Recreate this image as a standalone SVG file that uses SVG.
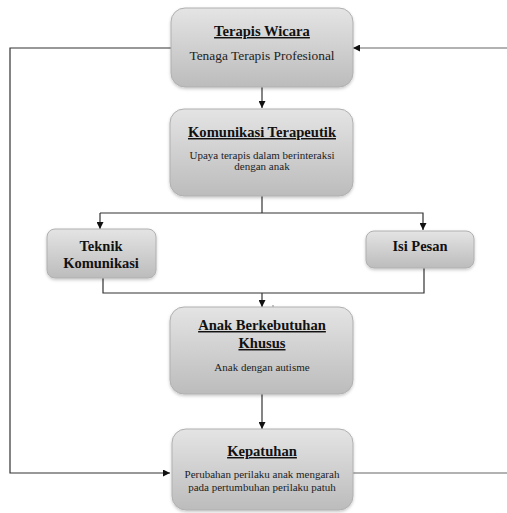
<svg xmlns="http://www.w3.org/2000/svg" width="507" height="513" viewBox="0 0 507 513">
<defs>
<linearGradient id="g" x1="0" y1="0" x2="0" y2="1">
<stop offset="0" stop-color="#e4e4e4"/>
<stop offset="1" stop-color="#bcbcbc"/>
</linearGradient>
<filter id="sh" x="-10%" y="-10%" width="120%" height="130%">
<feDropShadow dx="0" dy="1.5" stdDeviation="1.5" flood-color="#000" flood-opacity="0.22"/>
</filter>
<marker id="ah" viewBox="0 0 10 10" refX="10" refY="5" markerWidth="7" markerHeight="7" markerUnits="userSpaceOnUse" orient="auto">
<path d="M0,0 L10,5 L0,10 z" fill="#111"/>
</marker>
</defs>
<style>
.box{fill:url(#g);stroke:#b0b0b0;stroke-width:1;filter:url(#sh)}
.t{font-family:"Liberation Serif","Times New Roman",serif;font-weight:bold;font-size:14.6px;fill:#111;text-anchor:middle;text-decoration:underline}
.tb{font-family:"Liberation Serif","Times New Roman",serif;font-weight:bold;font-size:14.5px;fill:#111;text-anchor:middle}
.s{font-family:"Liberation Serif","Times New Roman",serif;font-size:11px;fill:#222;text-anchor:middle}
.s2{font-family:"Liberation Serif","Times New Roman",serif;font-size:13.4px;fill:#222;text-anchor:middle}
.c{fill:none;stroke:#333;stroke-width:1.2}
.cg{fill:none;stroke:#666;stroke-width:1.2}
</style>
<g id="connectors">
<path class="c" d="M171,48 H10 V473 H170" marker-end="url(#ah)"/>
<path class="cg" d="M507,48 H353" marker-end="url(#ah)"/>
<path class="cg" d="M353,473 H507"/>
<path class="c" d="M262,87 V108" marker-end="url(#ah)"/>
<path class="c" d="M262,196 V213"/>
<path class="c" d="M100,213 H423 V230" marker-end="url(#ah)"/>
<path class="c" d="M100,213 V229" marker-end="url(#ah)"/>
<path class="c" d="M103,278 V293 H424 V268"/>
<path class="c" d="M262,293 V307" marker-end="url(#ah)"/>
<path class="cg" d="M273,305 V328" style="stroke-width:0.8"/>
<path class="c" d="M262,394 V429" marker-end="url(#ah)"/>
</g>
<g id="terapis-wicara">
<rect class="box" x="171" y="8" width="182" height="79" rx="14"/>
<text class="t" x="262" y="36">Terapis Wicara</text>
<text class="s2" x="262" y="60">Tenaga Terapis Profesional</text>
</g>
<g id="komunikasi-terapeutik">
<rect class="box" x="170" y="109" width="183" height="87" rx="14"/>
<text class="t" x="262" y="137">Komunikasi Terapeutik</text>
<text class="s" x="262" y="159">Upaya terapis dalam berinteraksi</text>
<text class="s" x="262" y="170">dengan anak</text>
</g>
<g id="teknik-komunikasi">
<rect class="box" x="47" y="229" width="109" height="49" rx="8"/>
<text class="tb" x="101" y="251">Teknik</text>
<text class="tb" x="101" y="268">Komunikasi</text>
</g>
<g id="isi-pesan">
<rect class="box" x="366" y="231" width="108" height="37" rx="8"/>
<text class="tb" x="420" y="251">Isi Pesan</text>
</g>
<g id="anak-berkebutuhan-khusus">
<rect class="box" x="170" y="307" width="183" height="87" rx="14"/>
<text class="t" x="262" y="330">Anak Berkebutuhan</text>
<text class="t" x="262" y="348">Khusus</text>
<text class="s" x="262" y="371">Anak dengan autisme</text>
</g>
<g id="kepatuhan">
<rect class="box" x="172" y="429" width="181" height="81" rx="14"/>
<text class="t" x="262" y="456">Kepatuhan</text>
<text class="s" x="262" y="478">Perubahan perilaku anak mengarah</text>
<text class="s" x="262" y="491">pada pertumbuhan perilaku patuh</text>
</g>
</svg>
